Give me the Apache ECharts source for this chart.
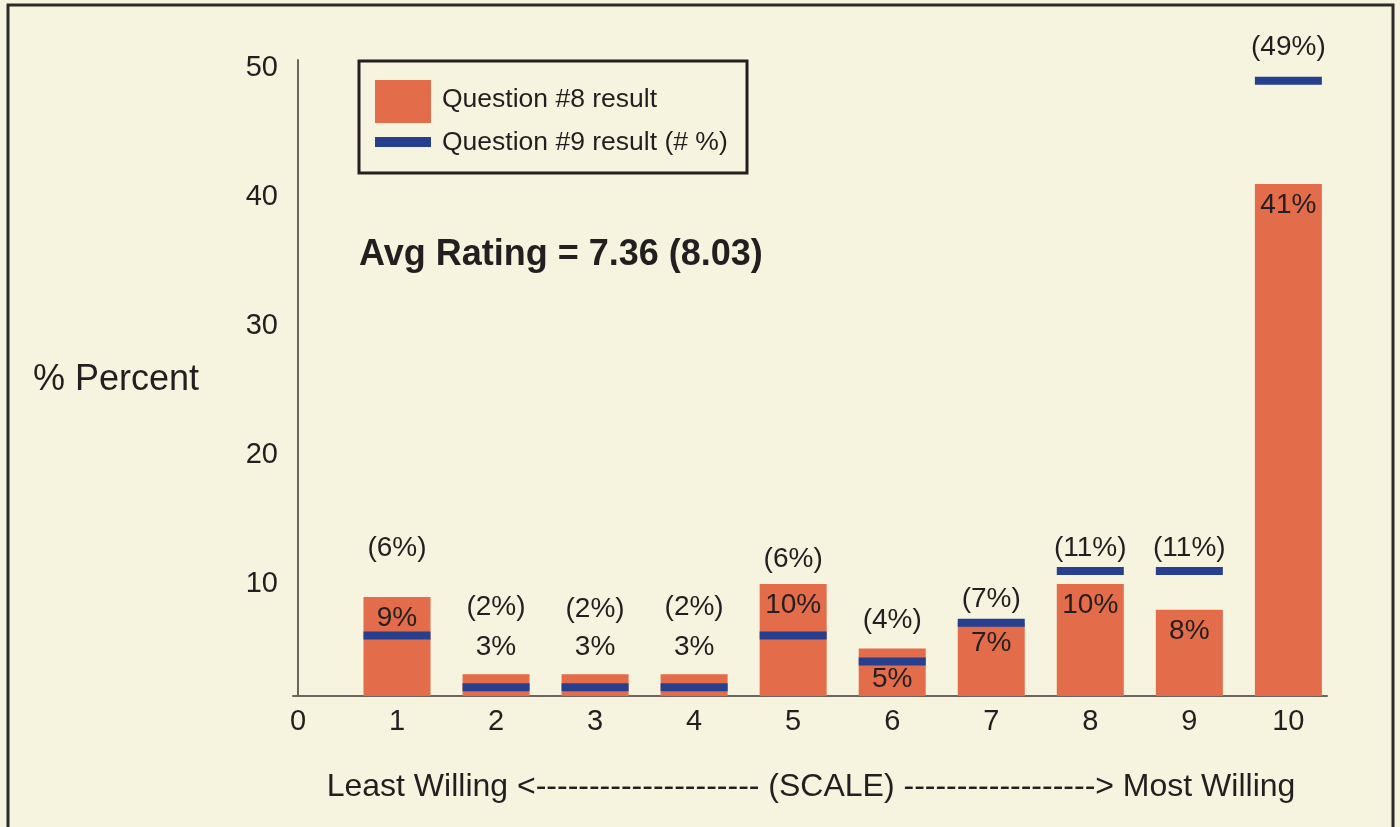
<!DOCTYPE html>
<html>
<head>
<meta charset="utf-8">
<title>Willingness scale</title>
<script src="https://cdn.jsdelivr.net/npm/echarts@6/dist/echarts.min.js"></script>
<style>
  html, body {
    margin: 0;
    padding: 0;
    background: #f6f4de;
  }
  #chart {
    width: 1400px;
    height: 827px;
  }
</style>
</head>
<body>
<div id="chart"></div>
<script>
// data
const scale = [1, 2, 3, 4, 5, 6, 7, 8, 9, 10]
const q8Pct = [9, 3, 3, 3, 10, 5, 7, 10, 8, 41]
const q9Pct = [6, 2, 2, 2, 6, 4, 7, 11, 11, 49]
const xTicks = [0, 1, 2, 3, 4, 5, 6, 7, 8, 9, 10]
const yTicks = [10, 20, 30, 40, 50]

// where each value label sits (layout only)
const q8LabelPlace = ['insideTop', 'top', 'top', 'top', 'insideTop', 'insideBottom', 'insideTop', 'insideTop', 'insideTop', 'insideTop']
const q9LabelLift = [-64, -57, -55, -57, -53, -18, 0, 0, 0, -10]

const orange = '#e36c4a'
const blue = '#263f8f'
const ink = '#231f20'
const font = "Arial, 'Liberation Sans', Helvetica, sans-serif"

const chart = echarts.init(document.getElementById('chart'))

chart.setOption({
  backgroundColor: '#f6f4de',
  animation: false,
  textStyle: {fontFamily: font, color: ink},
  grid: {left: 293, right: 73, top: 60, bottom: 131},
  xAxis: {
    type: 'value',
    min: -0.05,
    max: 10.39,
    splitLine: {show: false},
    axisTick: {show: false},
    axisLine: {lineStyle: {color: '#6d655c', width: 2}},
    axisLabel: {
      customValues: xTicks,
      fontSize: 29,
      color: ink,
      margin: 11,
      fontFamily: font
    }
  },
  yAxis: {
    type: 'value',
    min: 1.32,
    max: 50.6,
    splitLine: {show: false},
    axisTick: {show: false},
    axisLine: {show: true, lineStyle: {color: '#6d655c', width: 2}},
    axisLabel: {
      customValues: yTicks,
      fontSize: 29,
      color: ink,
      margin: 15,
      fontFamily: font
    }
  },
  series: [
    {
      name: 'Question #8 result',
      type: 'bar',
      barWidth: 67,
      clip: true,
      itemStyle: {color: orange},
      data: scale.map((s, i) => ({
        value: [s, q8Pct[i]],
        label: {
          show: true,
          position: q8LabelPlace[i],
          distance: q8LabelPlace[i] === 'top' ? 13 : (q8LabelPlace[i] === 'insideBottom' ? 3 : 7),
          formatter: q8Pct[i] + '%',
          fontSize: 28,
          color: ink,
          fontFamily: font
        }
      }))
    },
    {
      name: 'Question #9 result (# %)',
      type: 'scatter',
      symbol: 'rect',
      symbolSize: [67, 8],
      itemStyle: {color: blue, opacity: 1},
      z: 3,
      data: scale.map((s, i) => ({
        value: [s, q9Pct[i]],
        label: {
          show: true,
          position: 'top',
          distance: 5,
          offset: [0, q9LabelLift[i]],
          formatter: '(' + q9Pct[i] + '%)',
          fontSize: 28,
          color: ink,
          fontFamily: font
        }
      }))
    }
  ],
  graphic: [
    // outer frame
    {
      type: 'rect',
      shape: {x: 8, y: 5, width: 1385, height: 850},
      style: {fill: 'none', stroke: '#2b2b2b', lineWidth: 3}
    },
    // legend box
    {
      type: 'rect',
      shape: {x: 359, y: 61, width: 388, height: 112},
      style: {fill: 'none', stroke: ink, lineWidth: 3}
    },
    {
      type: 'rect',
      shape: {x: 375, y: 80, width: 56, height: 43},
      style: {fill: orange}
    },
    {
      type: 'rect',
      shape: {x: 375, y: 137, width: 56, height: 10},
      style: {fill: blue}
    },
    {
      type: 'text',
      x: 442, y: 100,
      style: {text: 'Question #8 result', fontSize: 26.5, fontFamily: font, fill: ink, verticalAlign: 'middle'}
    },
    {
      type: 'text',
      x: 442, y: 143,
      style: {text: 'Question #9 result (# %)', fontSize: 26.5, fontFamily: font, fill: ink, verticalAlign: 'middle'}
    },
    {
      type: 'text',
      x: 359, y: 255,
      style: {text: 'Avg Rating = 7.36 (8.03)', fontSize: 36, fontWeight: 'bold', fontFamily: font, fill: ink, verticalAlign: 'middle'}
    },
    {
      type: 'text',
      x: 33, y: 380,
      style: {text: '% Percent', fontSize: 36, fontFamily: font, fill: ink, verticalAlign: 'middle'}
    },
    {
      type: 'text',
      x: 811, y: 787,
      style: {
        text: 'Least Willing <--------------------- (SCALE) ------------------> Most Willing',
        fontSize: 32, fontFamily: font, fill: ink, align: 'center', verticalAlign: 'middle'
      }
    }
  ]
})

window.addEventListener('resize', () => chart.resize())
</script>
</body>
</html>
